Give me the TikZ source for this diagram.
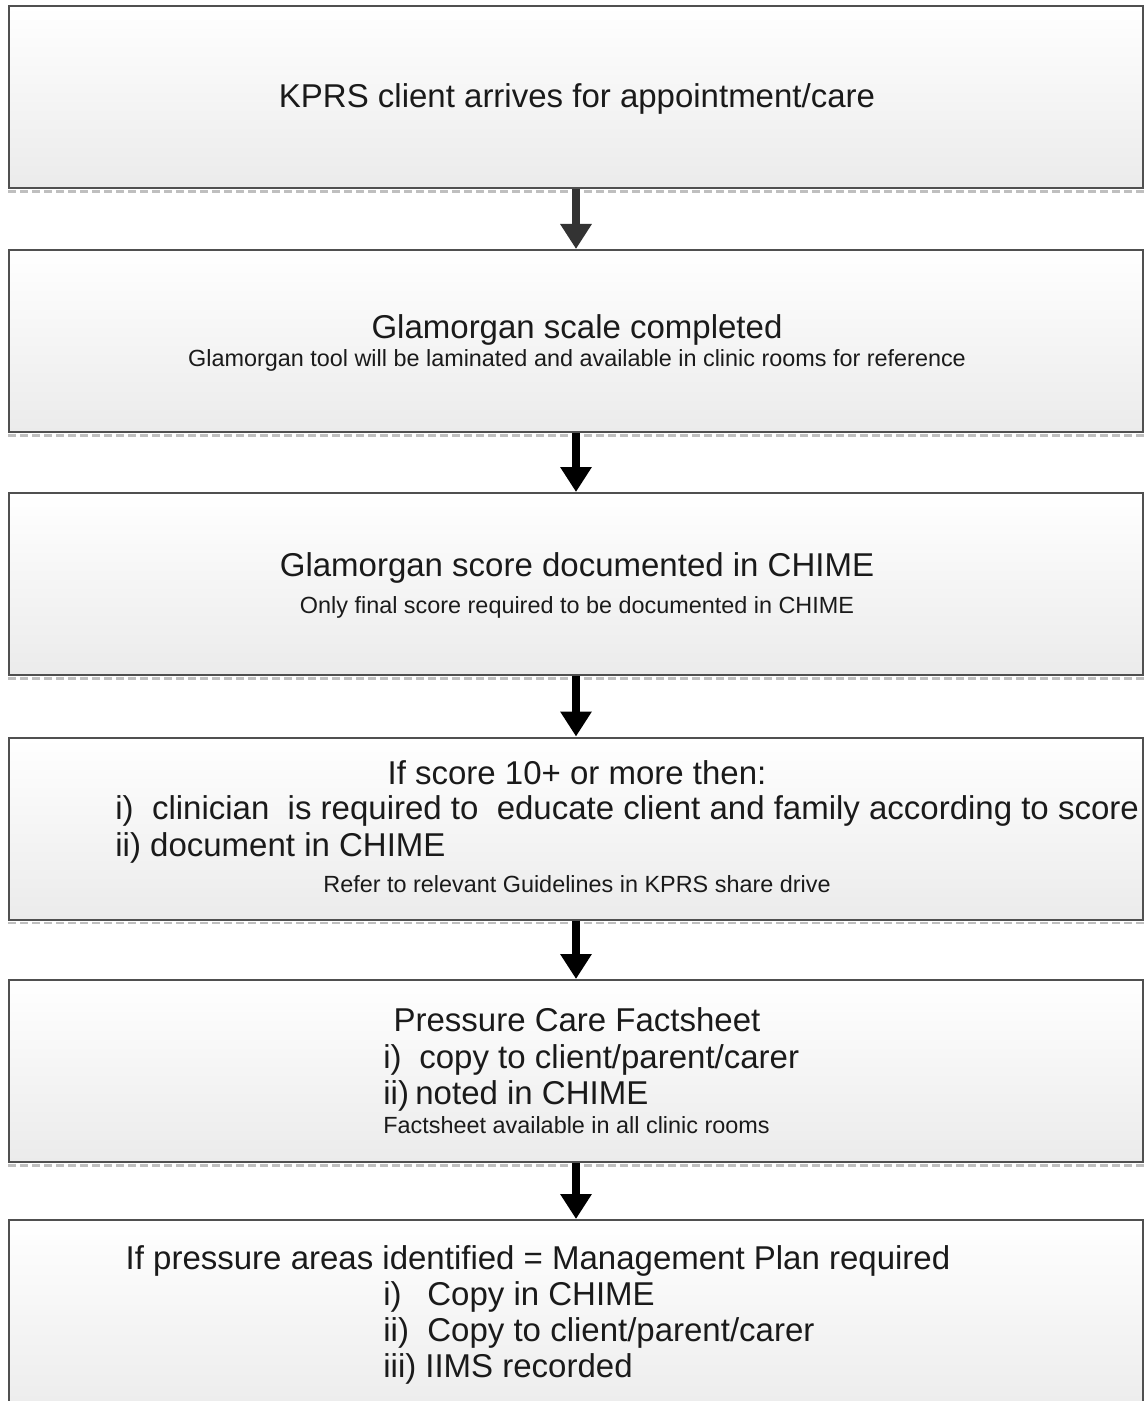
\documentclass[tikz,border=0pt]{standalone}
\usepackage{fontspec}
\setmainfont{Liberation Sans}
\usetikzlibrary{
  calc,positioning,
  arrows,arrows.meta
}
\definecolor{boxline}{HTML}{505050}
\definecolor{boxfoot}{HTML}{EBEBEB}
\definecolor{inkgray}{HTML}{1A1A1A}
\newcommand{\bigtext}{\fontsize{16.5}{18}\selectfont}
\newcommand{\smalltext}{\fontsize{11.7}{13}\selectfont}
\newcommand{\lbl}[2]{\makebox[#1][l]{#2}}
\begin{document}
\begin{tikzpicture}[x=0.5pt,y=-0.5pt,
  flowbox/.style={draw=boxline,line width=1pt,top color=white,bottom color=boxfoot,
    minimum width=567pt,minimum height=91pt,inner sep=0pt},
  boxshadow/.style={draw=gray!50,line width=1.3pt,dash pattern=on 4pt off 2pt},
  flowarrow/.style={-{Triangle[width=15pt,length=12.5pt]},line width=4pt,black},
  bigline/.style={inner sep=0pt,text=inkgray,font=\bigtext},
  smallline/.style={inner sep=0pt,text=inkgray,font=\smalltext}
]
\useasboundingbox (0,0) rectangle (1145,1401);

\node[flowbox] (arrive) at (576,97) {};
\node[flowbox] (scale) at (576,341) {};
\node[flowbox] (score) at (576,584) {};
\node[flowbox] (educate) at (576,828.5) {};
\node[flowbox] (factsheet) at (576,1071) {};
\node[flowbox,minimum height=100pt] (plan) at (576,1320) {};

\foreach \b in {arrive,scale,score,educate,factsheet}
  \draw[boxshadow] ([yshift=-1.2pt]\b.south west) -- ([yshift=-1.2pt]\b.south east);

\draw[flowarrow,black!80] (arrive) -- (scale);
\draw[flowarrow] (scale) -- (score);
\draw[flowarrow] (score) -- (educate);
\draw[flowarrow] (educate) -- (factsheet);
\draw[flowarrow] (factsheet) -- (plan);

\node[bigline,anchor=base] (arrivetext) at (577,108) {KPRS client arrives for appointment/care};

\node[bigline,anchor=base] (scaletext) at (577,338) {Glamorgan scale completed};
\node[smallline,anchor=base] (scalenote) at (577,366) {Glamorgan tool will be laminated and available in clinic rooms for reference};

\node[bigline,anchor=base] (scoretext) at (577,576) {Glamorgan score documented in CHIME};
\node[smallline,anchor=base] (scorenote) at (577,613) {Only final score required to be documented in CHIME};

\node[bigline,anchor=base] (educatetext) at (577,784) {If score 10+ or more then:};
\node[bigline,anchor=base west] (educateone) at (115,819) {i)\ \ clinician\ \ is required to\ \ educate client and family according to score};
\node[bigline,anchor=base west] (educatetwo) at (115,856) {ii) document in CHIME};
\node[smallline,anchor=base] (educatenote) at (577,892) {Refer to relevant Guidelines in KPRS share drive};

\node[bigline,anchor=base] (factsheettext) at (577,1031) {Pressure Care Factsheet};
\node[bigline,anchor=base west] (factsheetone) at (383,1068) {\lbl{18pt}{i)}copy to client/parent/carer};
\node[bigline,anchor=base west] (factsheettwo) at (383,1104) {\lbl{16pt}{ii)}noted in CHIME};
\node[smallline,anchor=base west] (factsheetnote) at (383,1133) {Factsheet available in all clinic rooms};

\node[bigline,anchor=base] (plantext) at (538,1269) {If pressure areas identified = Management Plan required};
\node[bigline,anchor=base west] (planone) at (383,1305) {\lbl{22pt}{i)}Copy in CHIME};
\node[bigline,anchor=base west] (plantwo) at (383,1341) {\lbl{22pt}{ii)}Copy to client/parent/carer};
\node[bigline,anchor=base west] (planthree) at (383,1377) {\lbl{21pt}{iii)}IIMS recorded};
\end{tikzpicture}
\end{document}
